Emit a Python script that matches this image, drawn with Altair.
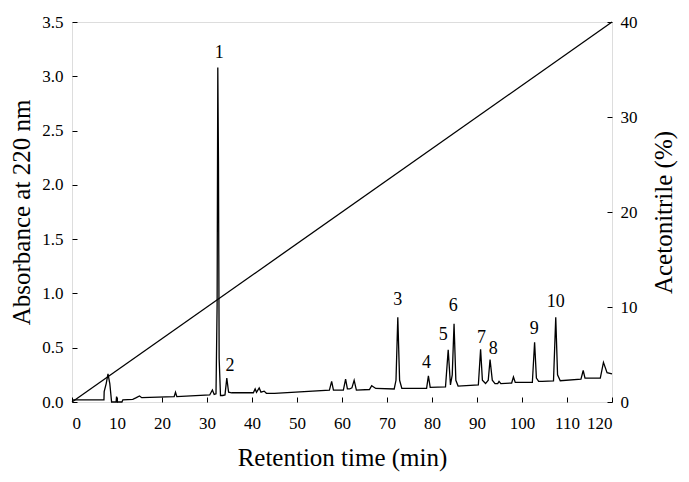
import altair as alt
import pandas as pd

# Chromatogram trace (retention time in min, absorbance at 220 nm)
trace_time = [0.0, 7.1, 7.15, 7.6, 8.0, 8.4, 8.8, 9.8, 9.9, 10.0, 11.1, 11.3, 13.5, 14.3, 15.0, 15.5,
              22.7, 23.0, 23.3, 30.6, 31.2, 31.6, 32.0, 32.25, 32.4, 32.55, 32.7, 33.0, 33.5, 34.0,
              34.4, 34.8, 35.5, 40.3, 40.7, 41.0, 41.6, 42.0, 42.7, 43.2, 45.0, 57.2, 57.7, 58.1,
              60.3, 60.8, 61.2, 61.7, 62.2, 62.7, 63.2, 66.1, 66.6, 67.5, 71.6, 72.0, 72.4, 72.8,
              73.3, 78.8, 79.2, 79.6, 83.0, 83.6, 84.1, 84.5, 84.9, 85.3, 85.8, 90.3, 90.8, 91.2,
              91.9, 92.5, 92.9, 93.4, 94.0, 94.6, 94.9, 95.3, 97.7, 98.1, 98.5, 102.3, 102.8, 103.2,
              103.7, 104.5, 107.0, 107.5, 107.9, 108.5, 113.1, 113.6, 114.0, 117.4, 118.1, 118.9, 120.0]
trace_abs = [0.02, 0.02, 0.095, 0.17, 0.26, 0.17, 0.0, 0.0, 0.05, 0.0, 0.0, 0.02, 0.025, 0.04, 0.055, 0.04,
             0.05, 0.09, 0.05, 0.065, 0.11, 0.07, 0.075, 0.9, 3.08, 2.2, 0.4, 0.06, 0.06, 0.065,
             0.22, 0.09, 0.085, 0.085, 0.12, 0.09, 0.13, 0.09, 0.1, 0.08, 0.08, 0.11, 0.19, 0.11,
             0.11, 0.21, 0.12, 0.12, 0.13, 0.2, 0.11, 0.115, 0.15, 0.125, 0.12, 0.2, 0.78, 0.2,
             0.125, 0.125, 0.24, 0.135, 0.14, 0.48, 0.157, 0.25, 0.72, 0.2, 0.147, 0.157, 0.485, 0.2,
             0.17, 0.2, 0.39, 0.2, 0.17, 0.17, 0.19, 0.17, 0.175, 0.23, 0.18, 0.18, 0.55, 0.22,
             0.19, 0.19, 0.195, 0.78, 0.25, 0.196, 0.21, 0.29, 0.22, 0.22, 0.365, 0.27, 0.26]

# Acetonitrile gradient (min, %)
grad_time = [0, 120]
grad_acn = [0, 40]

# Peak labels
peak_labels = ["1", "2", "3", "4", "5", "6", "7", "8", "9", "10"]
peak_label_time = [32.7, 35.1, 72.4, 78.8, 82.5, 84.7, 91.0, 93.6, 102.7, 107.5]
peak_label_abs = [3.21, 0.33, 0.94, 0.36, 0.62, 0.88, 0.59, 0.485, 0.67, 0.92]

FONT = "Liberation Serif"

trace_df = pd.DataFrame({"t": trace_time, "a": trace_abs, "i": range(len(trace_time))})
grad_df = pd.DataFrame({"t": grad_time, "c": grad_acn})
lab_df = pd.DataFrame({"t": peak_label_time, "a": peak_label_abs, "lab": peak_labels})

x_enc = alt.X("t:Q", scale=alt.Scale(domain=[0, 120], nice=False),
              axis=alt.Axis(title="Retention time (min)", values=list(range(0, 121, 10)),
                            offset=-5, tickSize=5, domain=False, grid=False,
                            labelPadding=13, titlePadding=14))

y_scale = alt.Scale(domain=[0, 3.5], nice=False)

trace = alt.Chart(trace_df).mark_line(color="black", strokeWidth=1.3).encode(
    x=x_enc,
    y=alt.Y("a:Q", scale=y_scale,
            axis=alt.Axis(title="Absorbance at 220 nm", orient="left",
                          values=[0, 0.5, 1, 1.5, 2, 2.5, 3, 3.5], format=".1f",
                          offset=-5, tickSize=5, domain=False, grid=False,
                          labelPadding=9, titlePadding=7)),
    order="i:Q",
)

labels = alt.Chart(lab_df).mark_text(font=FONT, fontSize=18, color="black",
                                     align="center", baseline="middle").encode(
    x=alt.X("t:Q"),
    y=alt.Y("a:Q", scale=y_scale),
    text="lab:N",
)

grad = alt.Chart(grad_df).mark_line(color="black", strokeWidth=1.3).encode(
    x=alt.X("t:Q"),
    y=alt.Y("c:Q", scale=alt.Scale(domain=[0, 40], nice=False),
            axis=alt.Axis(title="Acetonitrile (%)", orient="right",
                          values=[0, 10, 20, 30, 40],
                          offset=-5, tickSize=5, domain=False, grid=False,
                          labelPadding=8, titlePadding=14, titleAngle=270,
                          titleBaseline="top")),
)

left = alt.layer(trace, labels)
chart = alt.layer(left, grad).resolve_scale(y="independent").properties(
    width=540, height=380,
    autosize=alt.AutoSizeParams(type="none"),
    padding={"left": 64, "top": 14, "right": 69, "bottom": 72},
).configure_view(stroke="black", strokeWidth=1).configure(
    background="white", font=FONT
).configure_axis(
    labelFont=FONT, titleFont=FONT, labelFontSize=17, titleFontSize=25,
    labelColor="black", titleColor="black", tickColor="black",
    titleFontWeight="normal", labelFontWeight="normal",
)

chart.save("out.html", embed_options={"renderer": "svg", "actions": False})
